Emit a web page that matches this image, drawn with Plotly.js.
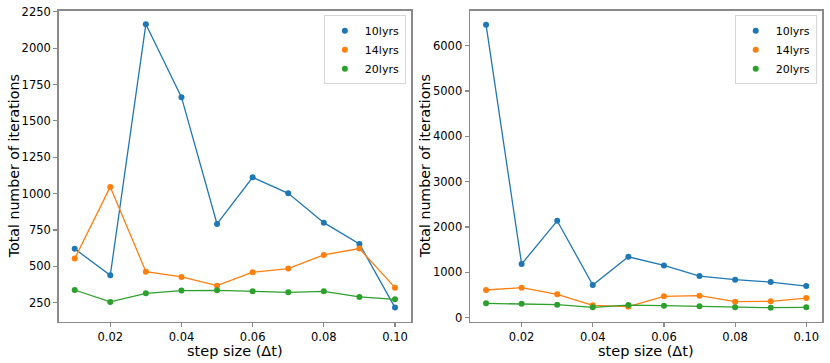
<!DOCTYPE html>
<html>
<head>
<meta charset="utf-8">
<script src="https://cdn.plot.ly/plotly-3.0.1.min.js"></script>
<style>
  html, body { margin: 0; padding: 0; background: #fff; }
  #chart { width: 830px; height: 363px; }
</style>
</head>
<body>
<div id="chart"></div>
<script>
// Step sizes shared by both panels
const stepSizes = [0.01, 0.02, 0.03, 0.04, 0.05, 0.06, 0.07, 0.08, 0.09, 0.10];
const seriesNames = ['10lyrs', '14lyrs', '20lyrs'];

// Left panel
const leftLyrs10 = [620, 438, 2165, 1663, 791, 1112, 1002, 800, 654, 216];
const leftLyrs14 = [553, 1046, 463, 427, 367, 459, 484, 578, 622, 353];
const leftLyrs20 = [337, 255, 314, 333, 335, 328, 321, 328, 289, 273];

// Right panel
const rightLyrs10 = [6463, 1182, 2137, 720, 1344, 1153, 918, 837, 786, 698];
const rightLyrs14 = [610, 661, 514, 272, 242, 470, 485, 352, 360, 433];
const rightLyrs20 = [316, 308, 286, 228, 279, 264, 250, 228, 220, 228];

const leftYTicks = [250, 500, 750, 1000, 1250, 1500, 1750, 2000, 2250];
const rightYTicks = [0, 1000, 2000, 3000, 4000, 5000, 6000];
const xTicks = [0.02, 0.04, 0.06, 0.08, 0.10];

const colors = ['#1f77b4', '#ff7f0e', '#2ca02c'];
const FONT = 'DejaVu Sans, sans-serif';
const X_TITLE = 'step size (Δt)';
const Y_TITLE = 'Total number of iterations';

// line trace (no legend) + marker-only trace (legend shows just the dot)
function makeTraces(seriesList, xa, ya, legendName) {
    const traces = [];
    seriesList.forEach((ys, i) => {
        traces.push({
            x: stepSizes, y: ys, xaxis: xa, yaxis: ya,
            type: 'scatter', mode: 'lines',
            line: { color: colors[i], width: 1.3 },
            showlegend: false, hoverinfo: 'skip'
        });
    });
    seriesList.forEach((ys, i) => {
        traces.push({
            x: stepSizes, y: ys, xaxis: xa, yaxis: ya,
            type: 'scatter', mode: 'markers',
            name: seriesNames[i],
            marker: { color: colors[i], size: 6 },
            legend: legendName
        });
    });
    return traces;
}

const data = [
    ...makeTraces([leftLyrs10, leftLyrs14, leftLyrs20], 'x', 'y', 'legend'),
    ...makeTraces([rightLyrs10, rightLyrs14, rightLyrs20], 'x2', 'y2', 'legend2')
];

const axisBase = {
    showgrid: false, zeroline: false,
    showline: true, mirror: true, linecolor: '#8a8a8a', linewidth: 1.5,
    ticks: 'outside', ticklen: 4, tickcolor: '#8a8a8a', tickwidth: 1.2,
    tickfont: { family: FONT, size: 11.5, color: '#000' }
};

function xAxis(domain, anchor) {
    return Object.assign({}, axisBase, {
        domain: domain, anchor: anchor,
        range: [0.0055, 0.1045],
        tickvals: xTicks, ticktext: xTicks.map(v => v.toFixed(2))
    });
}

function yAxis(range, ticks, anchor) {
    return Object.assign({}, axisBase, {
        domain: [0.113, 0.971], anchor: anchor,
        range: range,
        tickvals: ticks, ticktext: ticks.map(String)
    });
}

// axis titles as annotations so they sit where matplotlib put them
function xTitle(xPaper) {
    return {
        text: X_TITLE, showarrow: false,
        xref: 'paper', yref: 'paper', x: xPaper, y: 0.034,
        xanchor: 'center', yanchor: 'middle',
        font: { family: FONT, size: 14.5, color: '#000' }
    };
}

function yTitle(xPaper) {
    return {
        text: Y_TITLE, textangle: -90, showarrow: false,
        xref: 'paper', yref: 'paper', x: xPaper, y: 0.542,
        xanchor: 'center', yanchor: 'middle',
        font: { family: FONT, size: 14.2, color: '#000' }
    };
}

const legendBase = {
    bgcolor: 'rgba(255,255,255,0.8)', bordercolor: '#d6d6d6', borderwidth: 1,
    font: { family: FONT, size: 11, color: '#000' },
    xanchor: 'right', yanchor: 'top', y: 0.958,
    itemwidth: 30, tracegroupgap: 0
};

const layout = {
    width: 830, height: 363,
    margin: { l: 0, r: 0, t: 0, b: 0 },
    paper_bgcolor: '#fff', plot_bgcolor: '#fff',
    xaxis: xAxis([0.0707, 0.4952], 'y'),
    yaxis: yAxis([117, 2259], leftYTicks, 'x'),
    xaxis2: xAxis([0.5663, 0.9907], 'y2'),
    yaxis2: yAxis([-95, 6775], rightYTicks, 'x2'),
    legend: Object.assign({}, legendBase, { x: 0.489 }),
    legend2: Object.assign({}, legendBase, { x: 0.984 }),
    annotations: [
        xTitle(0.2828), xTitle(0.7785),
        yTitle(14 / 830), yTitle(425 / 830)
    ]
};

Plotly.newPlot('chart', data, layout, { displayModeBar: false, staticPlot: true });
</script>
</body>
</html>
